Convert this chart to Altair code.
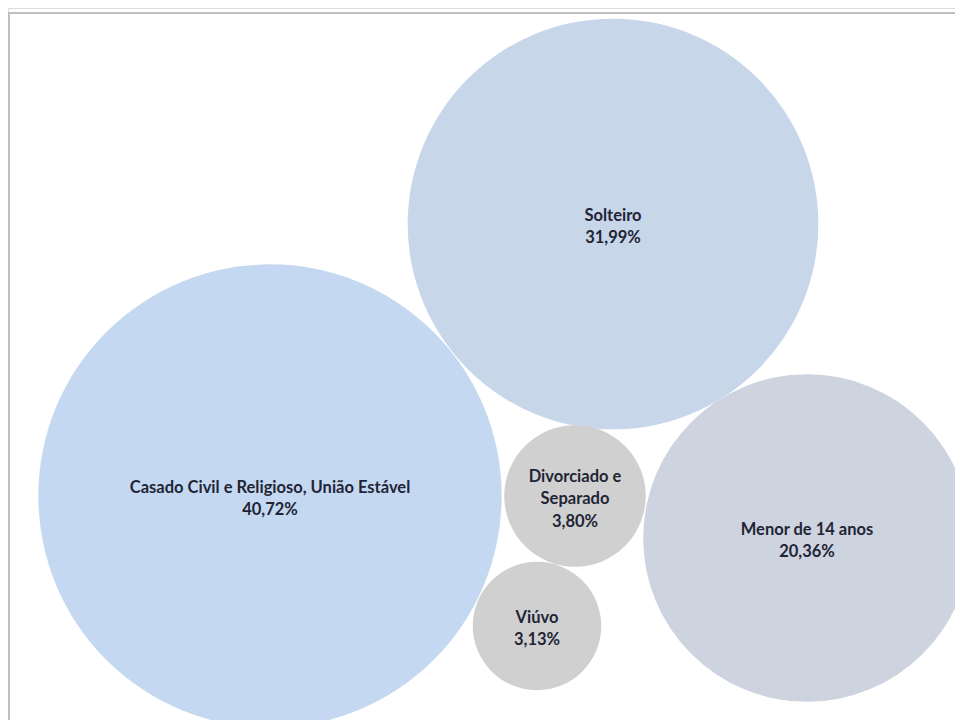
import altair as alt
import pandas as pd

# Data
categorias = [
    "Casado Civil e Religioso, União Estável",
    "Solteiro",
    "Menor de 14 anos",
    "Divorciado e Separado",
    "Viúvo",
]
rotulos = [
    "Casado Civil e Religioso, União Estável",
    "Solteiro",
    "Menor de 14 anos",
    "Divorciado e|Separado",
    "Viúvo",
]
valores = [40.72, 31.99, 20.36, 3.80, 3.13]
# bubble centre positions (layout units, as placed in the original)
pos_x = [270, 613, 807, 575, 537]
pos_y = [496, 224, 538, 496, 626]
cores = ["#c5d8f1", "#c8d6ea", "#cdd3df", "#d0d0d0", "#d0d0d0"]

df = pd.DataFrame({
    "categoria": categorias,
    "rotulo": rotulos,
    "valor": valores,
    "x": pos_x,
    "y": pos_y,
})
df["texto"] = df["rotulo"] + "|" + df["valor"].map(lambda v: f"{v:.2f}".replace(".", ",") + "%")
df["nlinhas"] = df["texto"].str.count(r"\|") + 1

W, H = 947, 712
LH = 22.5
xs = alt.Scale(domain=[8, 8 + W], nice=False, zero=False)
ys = alt.Scale(domain=[8, 8 + H], nice=False, zero=False, reverse=True)
K = 4 * 1318  # symbol size per percentage point

base = alt.Chart(df)

bolhas = base.mark_circle(opacity=1).encode(
    x=alt.X("x:Q", scale=xs, axis=None),
    y=alt.Y("y:Q", scale=ys, axis=None),
    size=alt.Size("valor:Q", scale=alt.Scale(domain=[0, 100], range=[0, K * 100]), legend=None),
    color=alt.Color("categoria:N", scale=alt.Scale(domain=categorias, range=cores), legend=None),
)

textos = base.transform_calculate(
    ytxt=f"datum.y - (datum.nlinhas - 1) * {LH / 2}"
).mark_text(
    font="Lato", fontWeight="bold", fontSize=16.5, color="#1f2535",
    lineBreak="|", lineHeight=LH, align="center", baseline="middle", dy=3,
).encode(
    x=alt.X("x:Q", scale=xs, axis=None),
    y=alt.Y("ytxt:Q", scale=ys, axis=None),
    text="texto:N",
)

borda_topo = alt.Chart(pd.DataFrame({"a": [0]})).mark_rule(color="#bfbfbf", strokeWidth=2).encode(
    x=alt.value(0), x2=alt.value(W), y=alt.value(5)
)
borda_esq = alt.Chart(pd.DataFrame({"a": [0]})).mark_rule(color="#bfbfbf", strokeWidth=2).encode(
    x=alt.value(1), y=alt.value(4), y2=alt.value(H)
)

chart = alt.layer(borda_topo, borda_esq, bolhas, textos).properties(
    width=W, height=H, padding=0, autosize=alt.AutoSizeParams(type="none")
).configure_view(stroke=None).configure(background="white")

chart.save("out.html", embed_options={"renderer": "svg", "actions": False})
